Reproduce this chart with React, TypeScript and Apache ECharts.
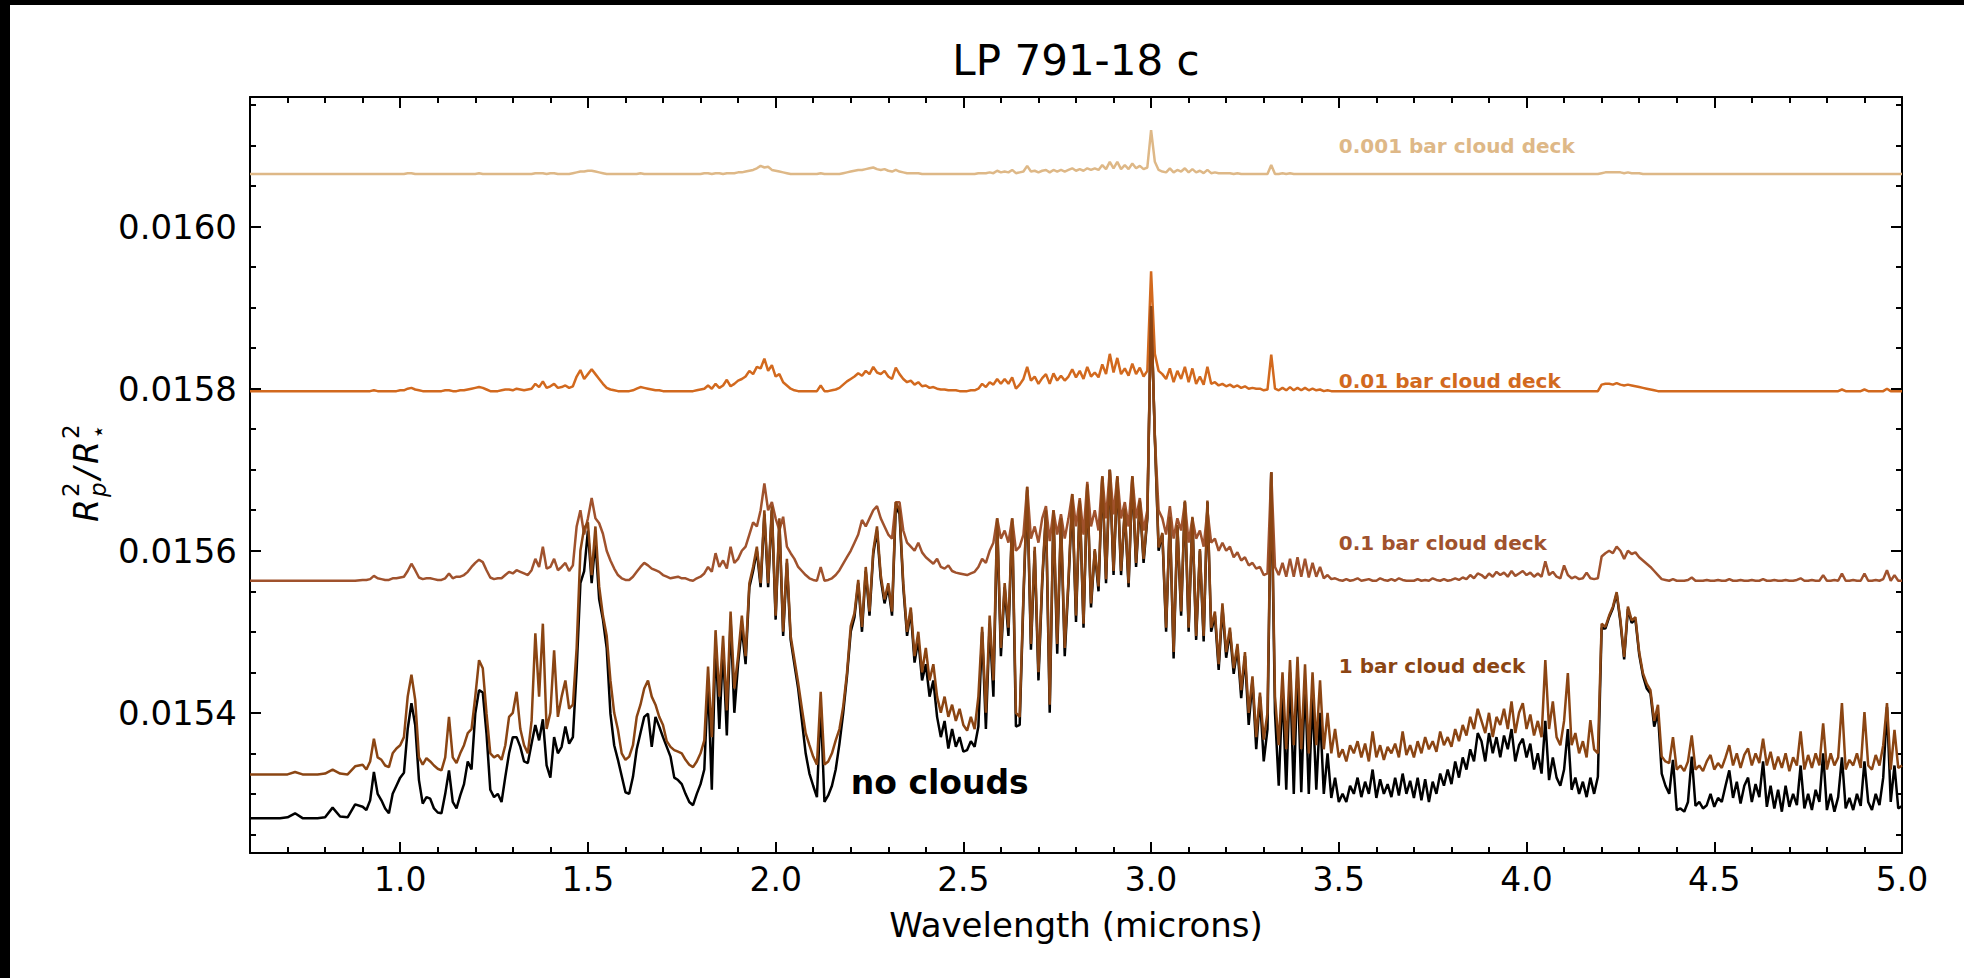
import React, { useEffect, useRef } from 'react';
import * as echarts from 'echarts';

// Wavelength grid (microns)
const wavelength = [
  0.60, 0.62, 0.64, 0.66, 0.68, 0.70, 0.72, 0.74, 0.76, 0.78, 0.80, 0.82, 0.84, 0.86, 0.88,
  0.90, 0.91, 0.92, 0.93, 0.94, 0.95, 0.96, 0.97, 0.98, 0.99,
  1.00, 1.01, 1.02, 1.03, 1.04, 1.05, 1.06, 1.07, 1.08, 1.09,
  1.10, 1.11, 1.12, 1.13, 1.14, 1.15, 1.16, 1.17, 1.18, 1.19,
  1.20, 1.21, 1.22, 1.23, 1.24, 1.25, 1.26, 1.27, 1.28, 1.29,
  1.30, 1.31, 1.32, 1.33, 1.34, 1.35, 1.36, 1.37, 1.38, 1.39,
  1.40, 1.41, 1.42, 1.43, 1.44, 1.45, 1.46, 1.47, 1.48, 1.49,
  1.50, 1.51, 1.52, 1.53, 1.54, 1.55, 1.56, 1.57, 1.58, 1.59,
  1.60, 1.61, 1.62, 1.63, 1.64, 1.65, 1.66, 1.67, 1.68, 1.69,
  1.70, 1.71, 1.72, 1.73, 1.74, 1.75, 1.76, 1.77, 1.78, 1.79,
  1.80, 1.81, 1.82, 1.83, 1.84, 1.85, 1.86, 1.87, 1.88, 1.89,
  1.90, 1.91, 1.92, 1.93, 1.94, 1.95, 1.96, 1.97, 1.98, 1.99,
  2.00, 2.01, 2.02, 2.03, 2.04, 2.05, 2.06, 2.07, 2.08, 2.09,
  2.10, 2.11, 2.12, 2.13, 2.14, 2.15, 2.16, 2.17, 2.18, 2.19,
  2.20, 2.21, 2.22, 2.23, 2.24, 2.25, 2.26, 2.27, 2.28, 2.29,
  2.30, 2.31, 2.32, 2.33, 2.34, 2.35, 2.36, 2.37, 2.38, 2.39,
  2.40, 2.41, 2.42, 2.43, 2.44, 2.45, 2.46, 2.47, 2.48, 2.49,
  2.50, 2.51, 2.52, 2.53, 2.54, 2.55, 2.56, 2.57, 2.58, 2.59,
  2.60, 2.61, 2.62, 2.63, 2.64, 2.65, 2.66, 2.67, 2.68, 2.69,
  2.70, 2.71, 2.72, 2.73, 2.74, 2.75, 2.76, 2.77, 2.78, 2.79,
  2.80, 2.81, 2.82, 2.83, 2.84, 2.85, 2.86, 2.87, 2.88, 2.89,
  2.90, 2.91, 2.92, 2.93, 2.94, 2.95, 2.96, 2.97, 2.98, 2.99,
  3.00, 3.01, 3.02, 3.03, 3.04, 3.05, 3.06, 3.07, 3.08, 3.09,
  3.10, 3.11, 3.12, 3.13, 3.14, 3.15, 3.16, 3.17, 3.18, 3.19,
  3.20, 3.21, 3.22, 3.23, 3.24, 3.25, 3.26, 3.27, 3.28, 3.29,
  3.30, 3.31, 3.32, 3.33, 3.34, 3.35, 3.36, 3.37, 3.38, 3.39,
  3.40, 3.41, 3.42, 3.43, 3.44, 3.45, 3.46, 3.47, 3.48, 3.49,
  3.50, 3.51, 3.52, 3.53, 3.54, 3.55, 3.56, 3.57, 3.58, 3.59,
  3.60, 3.61, 3.62, 3.63, 3.64, 3.65, 3.66, 3.67, 3.68, 3.69,
  3.70, 3.71, 3.72, 3.73, 3.74, 3.75, 3.76, 3.77, 3.78, 3.79,
  3.80, 3.81, 3.82, 3.83, 3.84, 3.85, 3.86, 3.87, 3.88, 3.89,
  3.90, 3.91, 3.92, 3.93, 3.94, 3.95, 3.96, 3.97, 3.98, 3.99,
  4.00, 4.01, 4.02, 4.03, 4.04, 4.05, 4.06, 4.07, 4.08, 4.09,
  4.10, 4.11, 4.12, 4.13, 4.14, 4.15, 4.16, 4.17, 4.18, 4.19,
  4.20, 4.21, 4.22, 4.23, 4.24, 4.25, 4.26, 4.27, 4.28, 4.29,
  4.30, 4.31, 4.32, 4.33, 4.34, 4.35, 4.36, 4.37, 4.38, 4.39,
  4.40, 4.41, 4.42, 4.43, 4.44, 4.45, 4.46, 4.47, 4.48, 4.49,
  4.50, 4.51, 4.52, 4.53, 4.54, 4.55, 4.56, 4.57, 4.58, 4.59,
  4.60, 4.61, 4.62, 4.63, 4.64, 4.65, 4.66, 4.67, 4.68, 4.69,
  4.70, 4.71, 4.72, 4.73, 4.74, 4.75, 4.76, 4.77, 4.78, 4.79,
  4.80, 4.81, 4.82, 4.83, 4.84, 4.85, 4.86, 4.87, 4.88, 4.89,
  4.90, 4.91, 4.92, 4.93, 4.94, 4.95, 4.96, 4.97, 4.98, 4.99,
  5.00,
];

// Transit depth Rp^2/R*^2, in units of 1e-6 (ppm)
const noClouds = [
  15270, 15270, 15270, 15270, 15270, 15271, 15276, 15270, 15270, 15270, 15271, 15283, 15272, 15271, 15287,
  15284, 15280, 15292, 15327, 15300, 15292, 15282, 15276, 15300, 15310,
  15320, 15326, 15380, 15412, 15385, 15317, 15288, 15296, 15294, 15282,
  15277, 15276, 15300, 15329, 15290, 15282, 15298, 15312, 15340, 15330,
  15399, 15428, 15425, 15374, 15305, 15296, 15300, 15290, 15321, 15350,
  15370, 15370, 15358, 15340, 15338, 15362, 15385, 15366, 15392, 15335,
  15320, 15370, 15350, 15358, 15383, 15362, 15370, 15453, 15560, 15575,
  15625, 15560, 15612, 15540, 15515, 15480, 15399, 15360, 15342, 15322,
  15302, 15300, 15321, 15355, 15375, 15395, 15399, 15358, 15395, 15383,
  15370, 15358, 15346, 15320, 15317, 15312, 15300, 15290, 15286, 15300,
  15312, 15330, 15440, 15305, 15490, 15380, 15480, 15372, 15515, 15400,
  15460, 15505, 15460, 15555, 15575, 15600, 15555, 15645, 15555, 15650,
  15515, 15635, 15495, 15585, 15490, 15460, 15430, 15390, 15350, 15325,
  15310, 15296, 15410, 15290, 15298, 15310, 15330, 15362, 15400, 15445,
  15500, 15518, 15560, 15500, 15575, 15520, 15596, 15625, 15565, 15535,
  15555, 15520, 15655, 15645, 15555, 15495, 15525, 15462, 15490, 15440,
  15460, 15420, 15440, 15395, 15370, 15390, 15356, 15380, 15358, 15370,
  15352, 15354, 15365, 15358, 15383, 15500, 15380, 15510, 15420, 15635,
  15470, 15555, 15495, 15636, 15383, 15385, 15540, 15675, 15478, 15600,
  15440, 15560, 15646, 15400, 15645, 15473, 15636, 15470, 15560, 15665,
  15512, 15660, 15505, 15680, 15530, 15600, 15550, 15690, 15560, 15700,
  15570, 15690, 15570, 15650, 15555, 15690, 15580, 15660, 15585, 15640,
  15900, 15740, 15600, 15620, 15500, 15640, 15467, 15630, 15520, 15660,
  15500, 15640, 15490, 15600, 15488, 15660, 15500, 15520, 15453, 15530,
  15468, 15500, 15448, 15480, 15418, 15470, 15385, 15440, 15355, 15420,
  15340, 15380, 15697, 15400, 15310, 15430, 15305, 15450, 15300, 15455,
  15302, 15440, 15300, 15420, 15305, 15400, 15300, 15350, 15295, 15320,
  15290, 15300, 15290, 15310, 15300, 15320, 15296, 15315, 15300, 15330,
  15295, 15318, 15300, 15312, 15296, 15320, 15298, 15325, 15300, 15316,
  15295, 15320, 15292, 15318, 15290, 15315, 15300, 15325, 15310, 15330,
  15312, 15340, 15320, 15345, 15330, 15355, 15340, 15375, 15365, 15340,
  15375, 15350, 15370, 15345, 15372, 15355, 15380, 15340, 15360, 15368,
  15345, 15362, 15330, 15350, 15325, 15390, 15317, 15345, 15320, 15310,
  15330, 15380, 15305, 15320, 15300, 15315, 15296, 15320, 15300, 15321,
  15505, 15504, 15518, 15529, 15547, 15512, 15466, 15528, 15511, 15515,
  15472, 15446, 15430, 15424, 15383, 15400, 15325, 15310, 15300, 15342,
  15280, 15282, 15278, 15290, 15346, 15285, 15290, 15282, 15286, 15300,
  15284, 15295, 15290, 15310, 15329, 15295, 15315, 15288, 15310, 15320,
  15290, 15312, 15296, 15340, 15284, 15310, 15282, 15305, 15278, 15310,
  15284, 15300, 15286, 15335, 15282, 15300, 15280, 15305, 15290, 15350,
  15280, 15300, 15278, 15296, 15345, 15282, 15295, 15280, 15300, 15285,
  15340, 15290, 15280, 15300, 15286, 15320, 15407, 15290, 15335, 15282,
  15285,
];

const cloud1bar = [
  15324, 15324, 15324, 15324, 15324, 15324, 15327, 15324, 15324, 15324, 15325, 15330, 15325, 15324, 15334,
  15336, 15330, 15340, 15368, 15345, 15342, 15335, 15333, 15350, 15356,
  15360, 15370, 15420, 15447, 15416, 15345, 15336, 15344, 15340, 15335,
  15331, 15329, 15345, 15395, 15345, 15338, 15350, 15360, 15375, 15380,
  15420, 15465, 15455, 15399, 15350, 15345, 15348, 15342, 15360, 15395,
  15400, 15426, 15380, 15360, 15350, 15390, 15498, 15420, 15510, 15380,
  15400, 15477, 15395, 15420, 15440, 15405, 15410, 15480, 15600, 15628,
  15635, 15570, 15630, 15556, 15520, 15495, 15440, 15400, 15379, 15350,
  15342, 15346, 15360, 15395, 15410, 15430, 15440, 15420, 15410, 15395,
  15385, 15365, 15358, 15354, 15352, 15350, 15342, 15336, 15333, 15340,
  15350, 15366, 15457, 15370, 15502, 15420, 15495, 15403, 15525, 15430,
  15470, 15520, 15470, 15560, 15580, 15605, 15560, 15650, 15560, 15655,
  15520, 15640, 15500, 15590, 15495, 15466, 15437, 15405, 15375, 15360,
  15346, 15336, 15426, 15336, 15340, 15350, 15366, 15380, 15408, 15449,
  15507, 15523, 15564, 15506, 15580, 15525, 15600, 15630, 15570, 15540,
  15560, 15525, 15660, 15650, 15560, 15500, 15530, 15470, 15500, 15450,
  15480, 15440, 15460, 15420, 15400, 15420, 15395, 15410, 15390, 15405,
  15385, 15378, 15395, 15380, 15420, 15506, 15400, 15520, 15440, 15640,
  15480, 15560, 15505, 15640, 15400, 15395, 15545, 15679, 15485, 15605,
  15450, 15565, 15650, 15410, 15650, 15485, 15640, 15480, 15565, 15670,
  15520, 15662, 15510, 15682, 15535, 15602, 15556, 15692, 15565, 15700,
  15575, 15692, 15575, 15652, 15560, 15692, 15585, 15662, 15590, 15642,
  15902, 15742, 15604, 15622, 15505, 15642, 15475, 15632, 15525, 15662,
  15505, 15642, 15495, 15602, 15495, 15662, 15505, 15525, 15460, 15535,
  15475, 15505, 15455, 15485, 15428, 15475, 15400, 15445, 15370, 15425,
  15367, 15400, 15697, 15420, 15360, 15450, 15355, 15465, 15360, 15469,
  15355, 15460, 15350, 15450, 15360, 15440, 15355, 15400, 15350, 15380,
  15345, 15355, 15340, 15360, 15350, 15365, 15345, 15362, 15340, 15377,
  15345, 15360, 15342, 15358, 15350, 15362, 15345, 15377, 15348, 15360,
  15345, 15365, 15350, 15370, 15355, 15365, 15352, 15377, 15360, 15370,
  15358, 15380, 15365, 15385, 15372, 15395, 15380, 15405, 15390, 15375,
  15400, 15370, 15395, 15385, 15405, 15380, 15414, 15375, 15400, 15412,
  15380, 15398, 15372, 15390, 15370, 15465, 15380, 15414, 15370, 15360,
  15390, 15449, 15360, 15375, 15350, 15365, 15345, 15391, 15355, 15350,
  15510, 15506, 15520, 15531, 15549, 15515, 15469, 15531, 15514, 15518,
  15475, 15449, 15436, 15428, 15390, 15410, 15346, 15340, 15338, 15370,
  15330, 15335, 15328, 15340, 15372, 15330, 15335, 15328, 15340, 15348,
  15330, 15338, 15332, 15345, 15360, 15335, 15350, 15332, 15348, 15356,
  15335, 15350, 15338, 15368, 15335, 15352, 15330, 15346, 15332, 15350,
  15328, 15345, 15335, 15377, 15330, 15348, 15332, 15350, 15335, 15387,
  15330, 15350, 15335, 15345, 15412, 15330, 15342, 15335, 15350, 15332,
  15401, 15335, 15330, 15348, 15335, 15360, 15412, 15330, 15379, 15332,
  15335,
];

const cloud01bar = [
  15563, 15563, 15563, 15563, 15563, 15563, 15563, 15563, 15563, 15563, 15563, 15563, 15563, 15563, 15563,
  15564, 15564, 15565, 15569, 15566, 15565, 15564, 15564, 15566, 15566,
  15567, 15568, 15575, 15584, 15576, 15567, 15565, 15566, 15566, 15565,
  15564, 15564, 15566, 15572, 15566, 15568, 15568, 15570, 15574, 15580,
  15585, 15589, 15586, 15576, 15567, 15565, 15566, 15566, 15570, 15574,
  15572, 15576, 15574, 15572, 15570, 15576, 15590, 15580, 15605, 15578,
  15580, 15590, 15576, 15580, 15585, 15575, 15582, 15630, 15650, 15620,
  15640, 15665, 15640, 15634, 15621, 15600, 15588, 15578, 15570, 15566,
  15564, 15564, 15568, 15574, 15580, 15585, 15582, 15578, 15576, 15574,
  15570, 15568, 15566, 15567, 15568, 15566, 15566, 15564, 15563, 15566,
  15568, 15572, 15580, 15574, 15597, 15580, 15588, 15578, 15605, 15585,
  15590, 15600, 15605, 15620, 15635, 15630, 15650, 15683, 15650, 15660,
  15640, 15625, 15642, 15605, 15597, 15590, 15580, 15575, 15570, 15566,
  15564, 15563, 15580, 15563, 15564, 15566, 15570, 15576, 15584, 15592,
  15600, 15610, 15620, 15638, 15630, 15640, 15650, 15655, 15640, 15630,
  15620, 15615, 15660, 15660, 15625, 15610, 15605, 15600, 15610, 15598,
  15592, 15588, 15584, 15590, 15580, 15578, 15582, 15575, 15573, 15572,
  15571, 15570, 15572, 15574, 15580, 15590, 15585, 15600, 15610, 15640,
  15615, 15625, 15610, 15640, 15600, 15605, 15620, 15679, 15615, 15630,
  15610, 15640, 15655, 15612, 15650, 15620, 15645, 15615, 15640, 15670,
  15630, 15665, 15620, 15685, 15630, 15650, 15625, 15692, 15640, 15700,
  15645, 15692, 15640, 15660, 15630, 15692, 15640, 15665, 15625, 15650,
  15898, 15740, 15650, 15640, 15620, 15655, 15615, 15640, 15625, 15660,
  15610, 15640, 15615, 15625, 15605, 15650, 15610, 15615, 15600, 15610,
  15600, 15605, 15592, 15598, 15588, 15592, 15582, 15585, 15578, 15580,
  15570, 15572, 15697, 15580, 15570, 15585, 15568, 15590, 15568, 15592,
  15568, 15590, 15567, 15585, 15568, 15580, 15566, 15570, 15565, 15566,
  15564, 15563, 15565, 15563, 15564, 15566, 15563, 15564, 15565, 15563,
  15563, 15566, 15564, 15563, 15565, 15563, 15566, 15564, 15563, 15563,
  15563, 15565, 15563, 15564, 15563, 15566, 15564, 15563, 15565, 15563,
  15564, 15566, 15564, 15567, 15565, 15570, 15566, 15572, 15570, 15566,
  15572, 15568, 15574, 15570, 15573, 15568, 15575, 15569, 15572, 15575,
  15570, 15573, 15568, 15572, 15568, 15587, 15570, 15574, 15568, 15566,
  15582, 15570, 15566, 15568, 15565, 15566, 15573, 15566, 15565, 15566,
  15593, 15597, 15600, 15597, 15605, 15600, 15590, 15600, 15596, 15598,
  15592, 15588, 15584, 15580, 15575, 15570, 15565, 15564, 15563, 15565,
  15563, 15563, 15563, 15564, 15567, 15563, 15563, 15563, 15564, 15563,
  15563, 15564, 15563, 15563, 15565, 15563, 15563, 15564, 15563, 15563,
  15564, 15563, 15563, 15565, 15563, 15563, 15564, 15563, 15563, 15564,
  15563, 15563, 15564, 15566, 15563, 15563, 15564, 15563, 15563, 15570,
  15563, 15563, 15564, 15563, 15572, 15563, 15563, 15564, 15563, 15563,
  15572, 15563, 15563, 15564, 15563, 15565, 15576, 15563, 15570, 15563,
  15563,
];

const cloud001bar = [
  15797, 15797, 15797, 15797, 15797, 15797, 15797, 15797, 15797, 15797, 15797, 15797, 15797, 15797, 15797,
  15797, 15797, 15797, 15798, 15797, 15797, 15797, 15797, 15797, 15797,
  15798, 15798, 15800, 15801, 15799, 15798, 15797, 15797, 15797, 15797,
  15797, 15797, 15798, 15798, 15797, 15797, 15798, 15798, 15799, 15800,
  15801, 15802, 15801, 15799, 15797, 15797, 15797, 15798, 15799, 15799,
  15798, 15800, 15799, 15798, 15799, 15800, 15806, 15802, 15809, 15801,
  15803, 15806, 15801, 15802, 15804, 15801, 15803, 15815, 15823, 15812,
  15818, 15824, 15818, 15812, 15806, 15801, 15799, 15798, 15797, 15797,
  15797, 15797, 15798, 15800, 15802, 15801, 15800, 15799, 15798, 15798,
  15797, 15797, 15797, 15797, 15797, 15797, 15797, 15797, 15797, 15798,
  15799, 15800, 15804, 15800, 15806, 15801, 15804, 15811, 15803, 15806,
  15810, 15812, 15815, 15822, 15818, 15827, 15825, 15837, 15822, 15829,
  15815, 15818, 15808, 15804, 15800, 15798, 15797, 15797, 15797, 15797,
  15797, 15797, 15804, 15797, 15797, 15798, 15799, 15801, 15805, 15809,
  15812, 15815, 15819, 15816, 15822, 15818, 15827, 15820, 15818, 15822,
  15815, 15812, 15826, 15818, 15812, 15808, 15810, 15805, 15808, 15803,
  15804, 15801, 15802, 15800, 15799, 15799, 15798, 15798, 15798, 15797,
  15797, 15797, 15798, 15798, 15800, 15806, 15802, 15808, 15805, 15812,
  15806, 15812, 15806, 15814, 15800, 15805, 15812, 15827, 15810, 15815,
  15806, 15813, 15818, 15806, 15819, 15810, 15816, 15810, 15815, 15824,
  15814, 15822, 15812, 15827, 15815, 15820, 15814, 15830, 15818, 15843,
  15820, 15838, 15818, 15825, 15816, 15831, 15818, 15826, 15815, 15822,
  15945, 15843, 15822, 15818, 15812, 15825, 15808, 15822, 15812, 15827,
  15808, 15825, 15806, 15815, 15805, 15827, 15806, 15808, 15804, 15806,
  15803, 15805, 15802, 15804, 15801, 15803, 15800, 15801, 15800, 15800,
  15798, 15799, 15842, 15800, 15798, 15801, 15798, 15802, 15798, 15801,
  15798, 15801, 15798, 15800, 15798, 15799, 15797, 15798, 15797, 15797,
  15797, 15797, 15797, 15797, 15797, 15797, 15797, 15797, 15797, 15797,
  15797, 15797, 15797, 15797, 15797, 15797, 15797, 15797, 15797, 15797,
  15797, 15797, 15797, 15797, 15797, 15797, 15797, 15797, 15797, 15797,
  15797, 15797, 15797, 15797, 15797, 15797, 15797, 15797, 15797, 15797,
  15797, 15797, 15797, 15797, 15797, 15797, 15797, 15797, 15797, 15797,
  15797, 15797, 15797, 15797, 15797, 15797, 15797, 15797, 15797, 15797,
  15797, 15797, 15797, 15797, 15797, 15797, 15797, 15797, 15797, 15797,
  15805, 15806, 15806, 15805, 15807, 15805, 15804, 15805, 15804, 15803,
  15802, 15801, 15800, 15799, 15798, 15797, 15797, 15797, 15797, 15797,
  15797, 15797, 15797, 15797, 15797, 15797, 15797, 15797, 15797, 15797,
  15797, 15797, 15797, 15797, 15797, 15797, 15797, 15797, 15797, 15797,
  15797, 15797, 15797, 15797, 15797, 15797, 15797, 15797, 15797, 15797,
  15797, 15797, 15797, 15797, 15797, 15797, 15797, 15797, 15797, 15797,
  15797, 15797, 15797, 15797, 15799, 15797, 15797, 15797, 15797, 15797,
  15799, 15797, 15797, 15797, 15797, 15797, 15800, 15797, 15797, 15797,
  15797,
];

const cloud0001bar = [
  16065, 16065, 16065, 16065, 16065, 16065, 16065, 16065, 16065, 16065, 16065, 16065, 16065, 16065, 16065,
  16065, 16065, 16065, 16065, 16065, 16065, 16065, 16065, 16065, 16065,
  16065, 16065, 16066, 16066, 16065, 16065, 16065, 16065, 16065, 16065,
  16065, 16065, 16065, 16065, 16065, 16065, 16065, 16065, 16065, 16065,
  16065, 16066, 16065, 16065, 16065, 16065, 16065, 16065, 16065, 16065,
  16065, 16065, 16065, 16065, 16065, 16065, 16066, 16066, 16066, 16065,
  16066, 16066, 16065, 16065, 16065, 16065, 16066, 16067, 16068, 16068,
  16069, 16069, 16068, 16067, 16066, 16065, 16065, 16065, 16065, 16065,
  16065, 16065, 16065, 16065, 16066, 16065, 16065, 16065, 16065, 16065,
  16065, 16065, 16065, 16065, 16065, 16065, 16065, 16065, 16065, 16065,
  16065, 16066, 16066, 16065, 16066, 16066, 16065, 16066, 16066, 16066,
  16067, 16067, 16068, 16069, 16070, 16072, 16075, 16073, 16074, 16070,
  16069, 16068, 16067, 16066, 16065, 16065, 16065, 16065, 16065, 16065,
  16065, 16065, 16066, 16065, 16065, 16065, 16065, 16065, 16066, 16067,
  16068, 16069, 16070, 16070, 16071, 16072, 16073, 16071, 16070, 16071,
  16069, 16068, 16070, 16068, 16067, 16066, 16066, 16066, 16066, 16065,
  16065, 16065, 16065, 16065, 16065, 16065, 16065, 16065, 16065, 16065,
  16065, 16065, 16065, 16065, 16066, 16066, 16066, 16067, 16066, 16069,
  16067, 16068, 16067, 16070, 16066, 16067, 16068, 16075, 16068, 16069,
  16067, 16069, 16070, 16067, 16070, 16068, 16070, 16068, 16070, 16072,
  16069, 16071, 16069, 16072, 16070, 16072, 16070, 16076, 16071, 16080,
  16072, 16080, 16071, 16076, 16071, 16078, 16072, 16075, 16071, 16073,
  16119, 16080, 16070, 16068, 16067, 16072, 16067, 16070, 16068, 16072,
  16067, 16071, 16067, 16069, 16066, 16070, 16066, 16067, 16066, 16066,
  16066, 16066, 16065, 16066, 16065, 16065, 16065, 16065, 16065, 16065,
  16065, 16065, 16076, 16065, 16065, 16066, 16065, 16066, 16065, 16065,
  16065, 16065, 16065, 16065, 16065, 16065, 16065, 16065, 16065, 16065,
  16065, 16065, 16065, 16065, 16065, 16065, 16065, 16065, 16065, 16065,
  16065, 16065, 16065, 16065, 16065, 16065, 16065, 16065, 16065, 16065,
  16065, 16065, 16065, 16065, 16065, 16065, 16065, 16065, 16065, 16065,
  16065, 16065, 16065, 16065, 16065, 16065, 16065, 16065, 16065, 16065,
  16065, 16065, 16065, 16065, 16065, 16065, 16065, 16065, 16065, 16065,
  16065, 16065, 16065, 16065, 16065, 16065, 16065, 16065, 16065, 16065,
  16065, 16065, 16065, 16065, 16065, 16065, 16065, 16065, 16065, 16065,
  16066, 16067, 16067, 16067, 16067, 16067, 16066, 16067, 16066, 16066,
  16066, 16065, 16065, 16065, 16065, 16065, 16065, 16065, 16065, 16065,
  16065, 16065, 16065, 16065, 16065, 16065, 16065, 16065, 16065, 16065,
  16065, 16065, 16065, 16065, 16065, 16065, 16065, 16065, 16065, 16065,
  16065, 16065, 16065, 16065, 16065, 16065, 16065, 16065, 16065, 16065,
  16065, 16065, 16065, 16065, 16065, 16065, 16065, 16065, 16065, 16065,
  16065, 16065, 16065, 16065, 16065, 16065, 16065, 16065, 16065, 16065,
  16065, 16065, 16065, 16065, 16065, 16065, 16065, 16065, 16065, 16065,
  16065,
];

// Axis ticks
const xMajorTicks = [1.0, 1.5, 2.0, 2.5, 3.0, 3.5, 4.0, 4.5, 5.0];
const xMinorTicks = [
  0.7, 0.8, 0.9, 1.1, 1.2, 1.3, 1.4, 1.6, 1.7, 1.8, 1.9, 2.1, 2.2, 2.3, 2.4,
  2.6, 2.7, 2.8, 2.9, 3.1, 3.2, 3.3, 3.4, 3.6, 3.7, 3.8, 3.9, 4.1, 4.2, 4.3, 4.4,
  4.6, 4.7, 4.8, 4.9,
];
const yMajorTicks = [15400, 15600, 15800, 16000];
const yMinorTicks = [
  15250, 15300, 15350, 15450, 15500, 15550, 15650, 15700, 15750, 15850, 15900, 15950,
  16050, 16100, 16150,
];

// Curve annotations
const annotationTexts = ['0.001 bar cloud deck', '0.01 bar cloud deck', '0.1 bar cloud deck', '1 bar cloud deck', 'no clouds'];
const annotationX = [3.5, 3.5, 3.5, 3.5, 2.2];
const annotationY = [16099, 15809, 15609, 15458, 15314];

const FONT = 'DejaVu Sans';
const COLORS = {
  none: '#000000',
  bar1: '#8B4513',
  bar01: '#A0522D',
  bar001: '#D2691E',
  bar0001: '#DEB887',
};
const annotationColors = [COLORS.bar0001, COLORS.bar001, COLORS.bar01, COLORS.bar1, COLORS.none];
const annotationSizes = [20, 20, 20, 20, 33];

const X_MIN = 0.6;
const X_MAX = 5.0;
const Y_MIN = 15227;
const Y_MAX = 16160;

function pairs(values: number[]) {
  return wavelength.map((w, i) => [w, values[i]]);
}

export default function App() {
  const ref = useRef<HTMLDivElement>(null);

  useEffect(() => {
    if (!ref.current) return;
    const chart = echarts.init(ref.current, null, { renderer: 'svg' });

    const black = '#000';
    const spine = { color: black, width: 2 };

    const xAxisBase = (position: string, ticks: number[], len: number, showLine: boolean, showLabel: boolean, extra: any = {}) => ({
      type: 'value',
      gridIndex: 0,
      min: X_MIN,
      max: X_MAX,
      position,
      axisLine: { show: showLine, onZero: false, lineStyle: spine },
      axisTick: { show: true, inside: true, length: len, lineStyle: { color: black, width: 2 }, customValues: ticks },
      axisLabel: showLabel
        ? {
            show: true,
            customValues: ticks,
            formatter: (v: number) => v.toFixed(1),
            color: black,
            fontSize: 33,
            fontFamily: FONT,
            margin: 10,
          }
        : { show: false },
      splitLine: { show: false },
      minorTick: { show: false },
      ...extra,
    });

    const yAxisBase = (position: string, ticks: number[], len: number, showLine: boolean, showLabel: boolean) => ({
      type: 'value',
      gridIndex: 0,
      min: Y_MIN,
      max: Y_MAX,
      position,
      axisLine: { show: showLine, onZero: false, lineStyle: spine },
      axisTick: { show: true, inside: true, length: len, lineStyle: { color: black, width: 2 }, customValues: ticks },
      axisLabel: showLabel
        ? {
            show: true,
            customValues: ticks,
            formatter: (v: number) => (v / 1e6).toFixed(4),
            color: black,
            fontSize: 34,
            fontFamily: FONT,
            margin: 13,
          }
        : { show: false },
      splitLine: { show: false },
      minorTick: { show: false },
    });

    const lineSeries = (name: string, values: number[], color: string, z: number) => ({
      type: 'line',
      name,
      xAxisIndex: 0,
      yAxisIndex: 0,
      data: pairs(values),
      showSymbol: false,
      symbol: 'none',
      silent: true,
      z,
      lineStyle: { color, width: 2.5, opacity: 1 },
      itemStyle: { color },
    });

    const yLabelFont = (size: number, italic: boolean) => `${italic ? 'italic ' : ''}${size}px "${FONT}"`;
    const yLabelChild = (text: string, x: number, y: number, size: number, italic: boolean) => ({
      type: 'text',
      x,
      y,
      style: {
        text,
        font: yLabelFont(size, italic),
        fill: black,
        textAlign: 'left',
        textVerticalAlign: 'middle',
        align: 'left',
        verticalAlign: 'middle',
      },
    });

    const option: any = {
      animation: false,
      backgroundColor: '#ffffff',
      grid: {
        left: 250,
        top: 97,
        width: 1652,
        height: 756,
        containLabel: false,
        outerBoundsMode: 'none',
        show: false,
      },
      xAxis: [
        xAxisBase('bottom', xMajorTicks, 11, true, true, {
          name: 'Wavelength (microns)',
          nameLocation: 'middle',
          nameGap: 55,
          nameTextStyle: { color: black, fontSize: 34, fontFamily: FONT },
        }),
        xAxisBase('bottom', xMinorTicks, 6, false, false),
        xAxisBase('top', xMajorTicks, 11, true, false),
        xAxisBase('top', xMinorTicks, 6, false, false),
      ],
      yAxis: [
        yAxisBase('left', yMajorTicks, 11, true, true),
        yAxisBase('left', yMinorTicks, 6, false, false),
        yAxisBase('right', yMajorTicks, 11, true, false),
        yAxisBase('right', yMinorTicks, 6, false, false),
      ],
      series: [
        lineSeries('no clouds', noClouds, COLORS.none, 2),
        lineSeries('0.001 bar cloud deck', cloud0001bar, COLORS.bar0001, 3),
        lineSeries('0.01 bar cloud deck', cloud001bar, COLORS.bar001, 4),
        lineSeries('0.1 bar cloud deck', cloud01bar, COLORS.bar01, 5),
        lineSeries('1 bar cloud deck', cloud1bar, COLORS.bar1, 6),
        {
          type: 'scatter',
          xAxisIndex: 0,
          yAxisIndex: 0,
          symbolSize: 0,
          silent: true,
          z: 10,
          itemStyle: { opacity: 1 },
          label: {
            show: true,
            position: 'right',
            distance: 0,
            formatter: '{b}',
            fontFamily: FONT,
            fontWeight: 'bold',
            opacity: 1,
            textBorderWidth: 0,
          },
          data: annotationTexts.map((t, i) => ({
            name: t,
            value: [annotationX[i], annotationY[i]],
            itemStyle: { opacity: 1 },
            label: { color: annotationColors[i], fontSize: annotationSizes[i], opacity: 1 },
          })),
        },
      ],
      graphic: [
        {
          type: 'rect',
          shape: { x: 0, y: 0, width: 10, height: 978 },
          style: { fill: '#000' },
          z: 100,
        },
        {
          type: 'rect',
          shape: { x: 0, y: 0, width: 1964, height: 5 },
          style: { fill: '#000' },
          z: 100,
        },
        {
          type: 'text',
          x: 1076,
          y: 60,
          z: 100,
          style: {
            text: 'LP 791-18 c',
            font: `42px "${FONT}"`,
            fill: black,
            textAlign: 'center',
            textVerticalAlign: 'middle',
            align: 'center',
            verticalAlign: 'middle',
          },
        },
        {
          type: 'group',
          x: 98,
          y: 522,
          rotation: Math.PI / 2,
          z: 100,
          children: [
            yLabelChild('R', 0, -12, 33, true),
            yLabelChild('2', 25, -27, 23, false),
            yLabelChild('p', 25, 0, 23, true),
            yLabelChild('/', 43, -12, 33, true),
            yLabelChild('R', 58, -12, 33, true),
            yLabelChild('2', 83, -27, 23, false),
            yLabelChild('⋆', 83, 0, 23, false),
          ],
        },
      ],
    };

    chart.setOption(option);
    return () => chart.dispose();
  }, []);

  return (
    <div
      ref={ref}
      style={{ position: 'absolute', left: 0, top: 0, width: 1964, height: 978, background: '#fff' }}
    />
  );
}
